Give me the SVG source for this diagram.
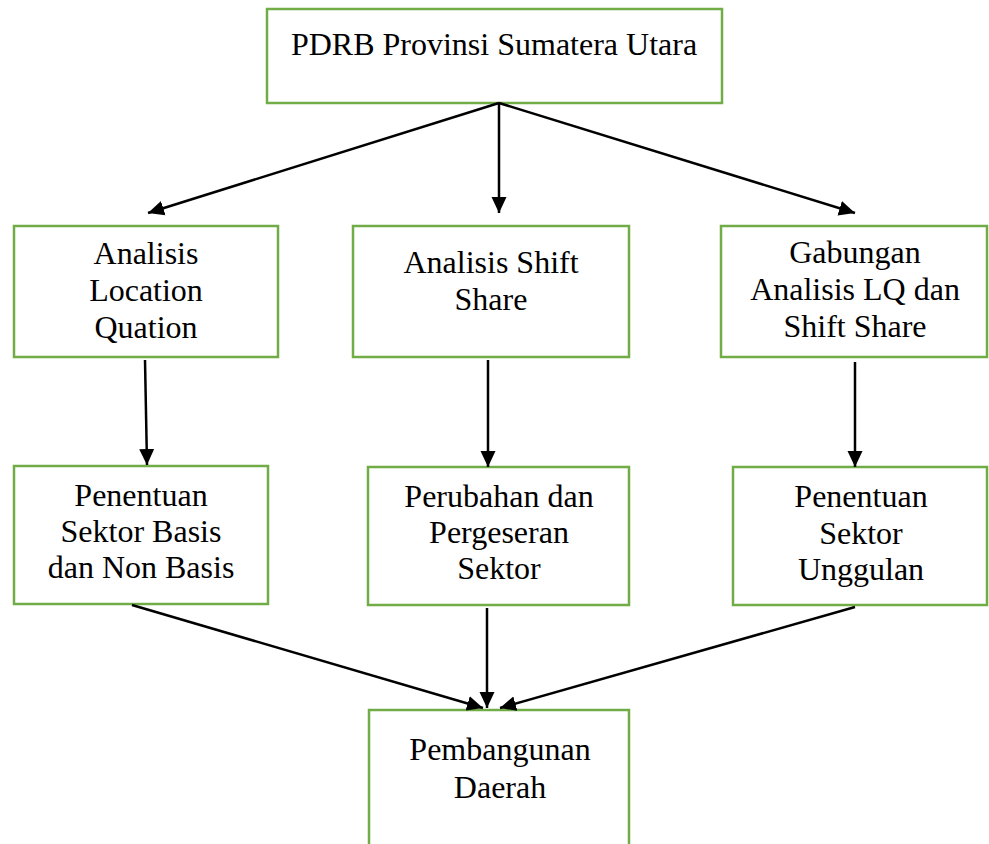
<svg xmlns="http://www.w3.org/2000/svg" width="989" height="844" viewBox="0 0 989 844">
<style>
.box{fill:#fff;stroke:#70ad47;stroke-width:2.5}
.t{font-family:"Liberation Serif","Times New Roman",serif;font-size:32px;fill:#000;text-anchor:middle}
.c{stroke:#000;stroke-width:2.5;fill:none;marker-end:url(#ah)}
</style>
<defs>
<marker id="ah" markerUnits="userSpaceOnUse" markerWidth="16" markerHeight="16" viewBox="0 0 16 16" refX="16" refY="8" orient="auto">
<path d="M0,0.5 L16,8 L0,15.5 Z" fill="#000"/>
</marker>
</defs>
<rect width="989" height="844" fill="#fff"/>
<g id="n-pdrb"><rect class="box" x="267" y="9" width="455" height="94"/><text class="t" x="494" y="55">PDRB Provinsi Sumatera Utara</text></g>
<g id="n-lq"><rect class="box" x="14" y="226" width="264" height="131"/><text class="t" x="146" y="264">Analisis</text><text class="t" x="146" y="301">Location</text><text class="t" x="146" y="338">Quation</text></g>
<g id="n-ss"><rect class="box" x="353" y="226" width="276" height="131"/><text class="t" x="491" y="273">Analisis Shift</text><text class="t" x="491" y="310">Share</text></g>
<g id="n-gab"><rect class="box" x="721" y="226" width="266" height="131"/><text class="t" x="855" y="263">Gabungan</text><text class="t" x="855" y="300">Analisis LQ dan</text><text class="t" x="855" y="337">Shift Share</text></g>
<g id="n-basis"><rect class="box" x="14" y="466" width="254" height="138"/><text class="t" x="141" y="506">Penentuan</text><text class="t" x="141" y="542">Sektor Basis</text><text class="t" x="141" y="578">dan Non Basis</text></g>
<g id="n-perubahan"><rect class="box" x="368" y="467" width="261" height="138"/><text class="t" x="499" y="507">Perubahan dan</text><text class="t" x="499" y="543">Pergeseran</text><text class="t" x="499" y="579">Sektor</text></g>
<g id="n-unggulan"><rect class="box" x="733" y="467" width="254" height="138"/><text class="t" x="861" y="507">Penentuan</text><text class="t" x="861" y="544">Sektor</text><text class="t" x="861" y="580">Unggulan</text></g>
<g id="n-daerah"><path class="box" d="M369,846 V710 H629 V846"/><text class="t" x="500" y="760">Pembangunan</text><text class="t" x="500" y="798">Daerah</text></g>
<g id="connectors">
<line class="c" x1="499" y1="103" x2="148" y2="213"/>
<line class="c" x1="499" y1="103" x2="499" y2="213"/>
<line class="c" x1="499" y1="103" x2="855" y2="213"/>
<line class="c" x1="145" y1="360" x2="147" y2="465"/>
<line class="c" x1="488" y1="360" x2="488" y2="467"/>
<line class="c" x1="855" y1="362" x2="855" y2="467"/>
<line class="c" x1="132" y1="605" x2="483" y2="708"/>
<line class="c" x1="487" y1="608" x2="487" y2="708"/>
<line class="c" x1="855" y1="607" x2="500" y2="708"/>
</g>
</svg>
